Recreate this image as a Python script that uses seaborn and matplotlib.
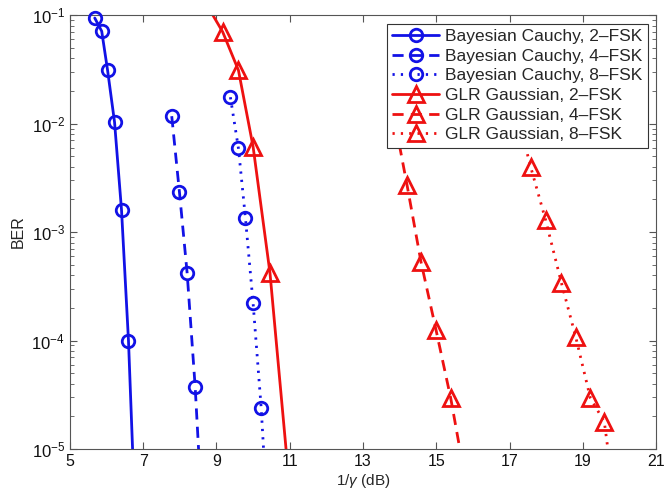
import numpy as np
import pandas as pd
import matplotlib
matplotlib.use("Agg")
import matplotlib.pyplot as plt
from matplotlib.lines import Line2D
import seaborn as sns

sns.set_theme(style="white")
plt.rcParams['font.family'] = ['Liberation Sans', 'DejaVu Sans']
plt.rcParams['mathtext.fontset'] = 'custom'
plt.rcParams['mathtext.rm'] = 'Liberation Sans'
plt.rcParams['mathtext.it'] = 'Liberation Sans:italic'

# ---- data ----
# marked (visible) simulation points
cauchy2_x = [5.68, 5.87, 6.03, 6.22, 6.41, 6.60]
cauchy2_y = [0.094, 0.071, 0.031, 0.0103, 0.0016, 1.0e-4]
cauchy4_x = [7.78, 7.99, 8.20, 8.42]
cauchy4_y = [0.0117, 0.00234, 4.2e-4, 3.7e-5]
cauchy8_x = [9.38, 9.60, 9.79, 10.00, 10.22]
cauchy8_y = [0.0175, 0.0059, 0.00135, 2.2e-4, 2.4e-5]
glr2_x = [9.17, 9.60, 10.00, 10.46]
glr2_y = [0.070, 0.031, 0.0061, 4.2e-4]
glr4_x = [14.20, 14.58, 14.99, 15.39]
glr4_y = [0.0027, 5.3e-4, 1.25e-4, 2.95e-5]
glr8_x = [17.57, 17.98, 18.41, 18.80, 19.20, 19.58]
glr8_y = [0.0040, 0.00129, 3.4e-4, 1.08e-4, 2.95e-5, 1.78e-5]

# unmarked curve continuation (points hidden outside the axes / under the legend)
cauchy2_head, cauchy2_tail = None, (6.79, 2.0e-6)
cauchy4_head, cauchy4_tail = None, (8.64, 1.6e-6)
cauchy8_head, cauchy8_tail = None, (10.42, 1.6e-6)
glr2_head, glr2_tail = (8.77, 0.119), (11.00, 4.2e-6)
glr4_head, glr4_tail = (13.80, 0.0138), (15.80, 5.0e-6)
glr8_head, glr8_tail = (17.20, 0.0123), (20.00, 1.5e-6)

labels = ["Bayesian Cauchy, 2\u2013FSK", "Bayesian Cauchy, 4\u2013FSK",
          "Bayesian Cauchy, 8\u2013FSK", "GLR Gaussian, 2\u2013FSK",
          "GLR Gaussian, 4\u2013FSK", "GLR Gaussian, 8\u2013FSK"]
x_ticks = [5, 7, 9, 11, 13, 15, 17, 19, 21]

BLUE = '#1212e6'
RED = '#ee1111'
DASH = (0, (4.0, 2.6))
DOT = (0, (0.8, 2.2))

series = [
    (cauchy2_x, cauchy2_y, cauchy2_head, cauchy2_tail, BLUE, '-', 'o'),
    (cauchy4_x, cauchy4_y, cauchy4_head, cauchy4_tail, BLUE, DASH, 'o'),
    (cauchy8_x, cauchy8_y, cauchy8_head, cauchy8_tail, BLUE, DOT, 'o'),
    (glr2_x, glr2_y, glr2_head, glr2_tail, RED, '-', '^'),
    (glr4_x, glr4_y, glr4_head, glr4_tail, RED, DASH, '^'),
    (glr8_x, glr8_y, glr8_head, glr8_tail, RED, DOT, '^'),
]

fig = plt.figure(figsize=(6.65, 4.97), dpi=100)
ax = fig.add_axes([0.105, 0.0966, 0.882, 0.873])

LW = 2.0
handles = []
for (xs, ys, head, tail, c, ls, mk), lab in zip(series, labels):
    lx, ly = list(xs), list(ys)
    if head is not None:
        lx, ly = [head[0]] + lx, [head[1]] + ly
    if tail is not None:
        lx, ly = lx + [tail[0]], ly + [tail[1]]
    line_df = pd.DataFrame({"x": lx, "y": ly})
    mark_df = pd.DataFrame({"x": xs, "y": ys})
    sns.lineplot(data=line_df, x="x", y="y", ax=ax, color=c, linestyle=ls,
                 linewidth=LW, sort=False, legend=False, zorder=2)
    ms = 9 if mk == 'o' else 11.5
    sns.lineplot(data=mark_df, x="x", y="y", ax=ax, color=c, linestyle='none',
                 marker=mk, markersize=ms, markerfacecolor='none',
                 markeredgecolor=c, markeredgewidth=2.0, sort=False,
                 legend=False, clip_on=False, zorder=3)
    handles.append(Line2D([], [], color=c, linestyle=ls, linewidth=LW,
                          marker=mk, markersize=ms, markerfacecolor='none',
                          markeredgecolor=c, markeredgewidth=2.0, label=lab))

ax.set_yscale('log')
ax.set_xlim(5, 21)
ax.set_ylim(1e-5, 1e-1)
ax.set_xticks(x_ticks)
ax.set_xticklabels([str(t) for t in x_ticks])
ax.set_xlabel(r"1/$\gamma$ (dB)", fontsize=11, labelpad=2)
ax.set_ylabel("BER", fontsize=11.5, labelpad=4)

for s in ax.spines.values():
    s.set_visible(True)
    s.set_color('#555555')
    s.set_linewidth(0.8)
ax.tick_params(which='both', direction='in', top=True, right=True,
               bottom=True, left=True, colors='#555555', labelcolor='#111111',
               labelsize=12)
ax.tick_params(axis='x', labelsize=11.5)
ax.tick_params(which='major', length=5, width=0.8)
ax.tick_params(which='minor', length=3, width=0.6)
ax.yaxis.set_minor_locator(matplotlib.ticker.LogLocator(base=10, subs=np.arange(2, 10), numticks=20))
ax.yaxis.set_minor_formatter(matplotlib.ticker.NullFormatter())

leg = ax.legend(handles=handles, loc='upper right', fontsize=12.5,
                frameon=True, fancybox=False, edgecolor='#333333',
                framealpha=1, handlelength=2.7, handletextpad=0.35,
                labelspacing=0.26, borderpad=0.3, borderaxespad=0.5)
leg.set_zorder(6)
leg.get_frame().set_linewidth(0.8)

fig.savefig("out.png", dpi=100)
